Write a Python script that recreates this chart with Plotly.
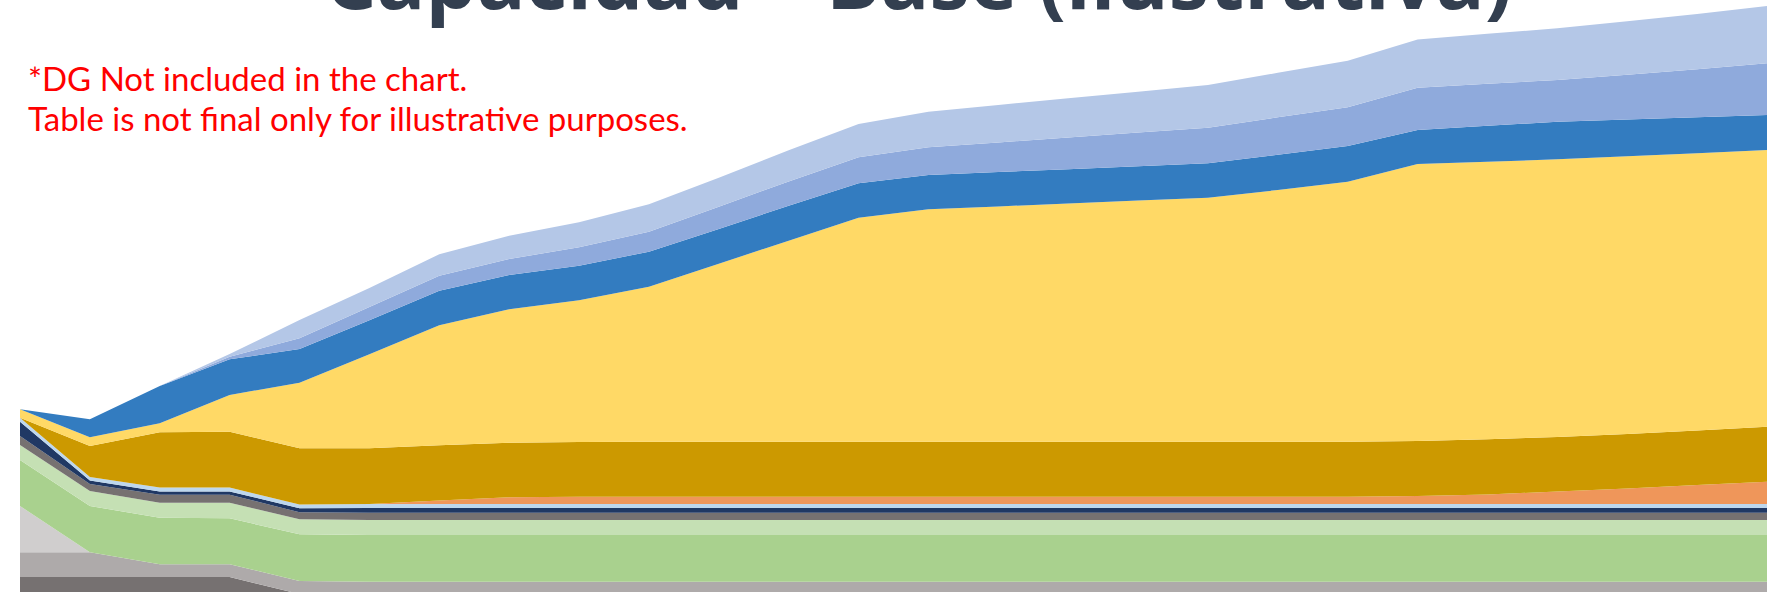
import plotly.graph_objects as go

years = list(range(2025, 2051))

# stacked layers, bottom to top (values in GW, illustrative)
s01_gris_oscuro = [6.3, 6.3, 6.3, 6.3] + [4.6] * 22
s02_gris_medio = [2.47, 2.47, 1.27, 1.27, 1.3] + [1.23] * 21
s03_gris_claro = [4.63] + [0] * 25
s04_verde = [4.6, 4.63, 4.66, 4.6, 4.67] + [4.67] * 21
s05_verde_claro = [1.5, 1.5, 1.5, 1.56, 1.5] + [1.5] * 21
s06_gris = [0.9, 0.7, 0.8, 0.8, 0.7] + [0.73] * 21
s07_azul_marino = [1.43, 0.35, 0.32, 0.32, 0.4] + [0.47] * 21
s08_celeste = [0.4, 0.35, 0.4, 0.4, 0.38] + [0.4] * 21
s09_naranja = [0, 0, 0, 0, 0, 0, 0.35, 0.68] + [0.73] * 12 + [0.8, 0.95, 1.25, 1.55, 1.9, 2.23]
s10_dorado = [0, 3.1, 5.52, 5.58, 5.62, 5.57, 5.52, 5.45, 5.47] + [5.5] * 12 + [5.52, 5.45, 5.45, 5.45, 5.5]
s11_amarillo = [0.84, 0.87, 0.9, 3.67, 6.56, 9.4, 12.0, 13.34, 14.17, 15.5, 17.8, 20.1, 22.4,
                23.24, 23.53, 23.82, 24.11, 24.4, 25.17, 26.0, 27.7, 27.76, 27.77, 27.77, 27.72, 27.67]
s12_azul = [0, 1.8, 3.73, 3.57, 3.37, 3.4, 3.46, 3.43, 3.46, 3.5, 3.48, 3.5, 3.44,
            3.43, 3.43, 3.43, 3.44, 3.44, 3.53, 3.57, 3.4, 3.59, 3.76, 3.68, 3.6, 3.5]
s13_azul_medio = [0, 0, 0, 0.26, 1.07, 1.33, 1.5, 1.6, 1.84, 2.0, 2.22, 2.43, 2.6,
                  2.77, 2.97, 3.17, 3.36, 3.56, 3.74, 3.87, 4.23, 4.2, 4.17, 4.48, 4.8, 5.17]
s14_azul_claro = [0, 0, 0, 0.27, 1.83, 1.9, 2.14, 2.33, 2.5, 2.74, 2.9, 3.11, 3.33,
                  3.56, 3.74, 3.92, 4.09, 4.27, 4.45, 4.66, 4.82, 5.0, 5.17, 5.35, 5.53, 5.73]

series = [
    ("Serie 1", s01_gris_oscuro, "#767171"),
    ("Serie 2", s02_gris_medio, "#AEAAAA"),
    ("Serie 3", s03_gris_claro, "#D0CECE"),
    ("Serie 4", s04_verde, "#A9D18E"),
    ("Serie 5", s05_verde_claro, "#C5E0B4"),
    ("Serie 6", s06_gris, "#767171"),
    ("Serie 7", s07_azul_marino, "#203864"),
    ("Serie 8", s08_celeste, "#BDD7EE"),
    ("Serie 9", s09_naranja, "#EF965A"),
    ("Serie 10", s10_dorado, "#CC9900"),
    ("Serie 11", s11_amarillo, "#FFD966"),
    ("Serie 12", s12_azul, "#337CC0"),
    ("Serie 13", s13_azul_medio, "#8FAADC"),
    ("Serie 14", s14_azul_claro, "#B4C7E7"),
]

fig = go.Figure()
for name, vals, col in series:
    fig.add_trace(go.Scatter(
        x=years, y=vals, name=name, stackgroup="one", mode="none",
        fillcolor=col, line=dict(width=0), hoverinfo="x+y+name",
    ))

W, H = 1775, 592
fig.update_layout(
    width=W, height=H,
    margin=dict(l=0, r=0, t=0, b=0),
    paper_bgcolor="white", plot_bgcolor="white",
    showlegend=False,
    xaxis=dict(range=[2025 - 20 / 69.88, 2050 + 8 / 69.88], visible=False, fixedrange=True),
    yaxis=dict(range=[4.8, 64.0], visible=False, fixedrange=True),
)

# title (partially cut off at top in the reference)
fig.add_annotation(
    text="<b>Capacidad – Base (ilustrativa)</b>",
    xref="paper", yref="paper", x=918 / W, y=1 - 35 / H,
    xanchor="center", yanchor="bottom", showarrow=False,
    font=dict(family="Open Sans", size=81, color="#333F50"),
)

fig.add_annotation(
    text="*DG Not included in the chart.",
    xref="paper", yref="paper", x=26 / W, y=1 - 100 / H,
    xanchor="left", yanchor="bottom", showarrow=False,
    font=dict(family="Lato", size=33, color="#FF0000"),
)
fig.add_annotation(
    text="Table is not final only for illustrative purposes.",
    xref="paper", yref="paper", x=26 / W, y=1 - 140 / H,
    xanchor="left", yanchor="bottom", showarrow=False,
    font=dict(family="Lato", size=33, color="#FF0000"),
)

fig.write_html(
    "out.html",
    config={"displayModeBar": False},
    post_script="document.body.style.margin='0';document.body.style.overflow='hidden';",
)
